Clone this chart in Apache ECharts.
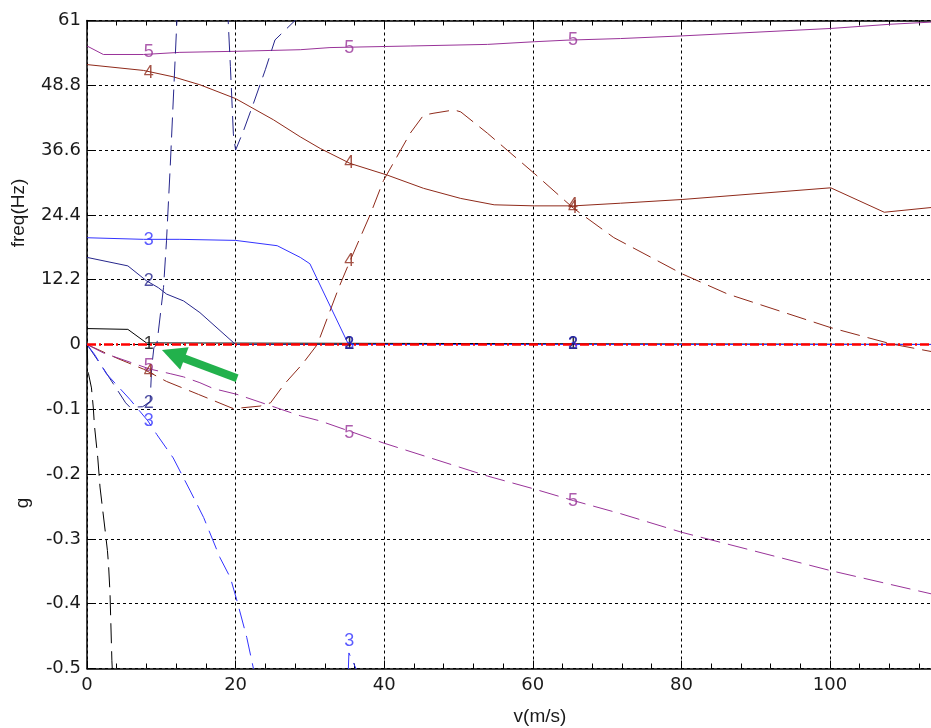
<!DOCTYPE html>
<html><head><meta charset="utf-8">
<script src="https://cdn.jsdelivr.net/npm/echarts@6/dist/echarts.min.js"></script>
<style>html,body{margin:0;padding:0;background:#fff}#c{width:931px;height:728px}</style>
</head><body><div id="c"></div>
<script>
// scale of the two stacked halves: freq (Hz) above zero, damping g below
const FREQ_TOP = 61;
const G_BOTTOM = 0.5;
const xTickLabels = ['0','20','40','60','80','100','120'];
const yTickLabels = ['-0.5','-0.4','-0.3','-0.2','-0.1','0','12.2','24.4','36.6','48.8','61'];

// frequency curves [v (m/s), f (Hz)]
const mode1Freq = [[0,3.0],[5.5,2.85],[8.0,0.3],[8.2,0],[120,0]];
const mode2Freq = [[0,16.4],[5.5,14.8],[8,12.0],[9.6,10.7],[10.7,9.5],[13,8.2],[15.2,6.0],[20,0],[120,0]];
const mode3Freq = [[0,20.1],[7.6,19.8],[12.5,19.8],[20,19.6],[25.6,18.6],[28.7,16.4],[30,15.2],[35.2,0],[120,0]];
const mode4Freq = [[0,52.7],[7.6,51.6],[11.6,50.4],[15.2,48.9],[20,46.3],[25.1,42.3],[28.7,39.1],[31.4,36.9],[35.4,34.1],[40.4,31.9],[45.3,29.4],[50.3,27.5],[54.8,26.3],[60.2,26.1],[65.5,26.1],[71.8,26.6],[80.1,27.3],[100.1,29.5],[107.3,24.9],[113.7,25.8],[116,26.1]];
const mode5Freq = [[0,56.2],[2.2,54.6],[7.6,54.6],[12.5,55.0],[20,55.2],[28.7,55.5],[32.7,55.9],[43.5,56.2],[53.9,56.5],[60.2,57.0],[64.6,57.3],[71.8,57.6],[80.1,58.1],[100.1,59.5],[108.2,60.3],[113.7,60.7],[116,61.0]];

// damping curves [v (m/s), g]
const mode1Damp = [[0,0],[0.1,-0.03],[0.2,-0.045],[0.6,-0.067],[0.85,-0.098],[1.0,-0.125],[1.45,-0.175],[1.75,-0.22],[2.45,-0.288],[2.75,-0.318],[2.9,-0.34],[3.1,-0.385],[3.35,-0.488],[3.4,-0.5],[3.5,-0.55]];
const mode2Damp = [[0,0],[2.2,-0.037],[5.2,-0.09],[5.8,-0.097],[7.5,-0.096],[8.5,-0.088],[8.7,-0.036],[9.0,-0.005],[9.4,0],[10.3,0.088],[10.7,0.16],[11.2,0.274],[12.1,0.5],[12.4,0.58],[18.8,0.58],[19.0,0.5],[19.3,0.429],[19.7,0.325],[20,0.3],[21.1,0.331],[22.4,0.372],[24,0.424],[25.3,0.47],[28,0.5],[30,0.56]];
const mode3Damp = [[0,0],[1,-0.015],[2.6,-0.045],[5.8,-0.085],[8.2,-0.118],[9.4,-0.139],[11.6,-0.175],[13.9,-0.226],[15.7,-0.267],[17.9,-0.329],[19.3,-0.36],[20.2,-0.396],[21.5,-0.452],[22.4,-0.5],[23.5,-0.56],[35.0,-0.56],[35.25,-0.476],[36.4,-0.505],[37,-0.53]];
const mode4Damp = [[0,0],[4,-0.021],[7.6,-0.038],[10.7,-0.057],[15,-0.077],[19.7,-0.099],[23.3,-0.095],[24.7,-0.09],[26.5,-0.062],[29,-0.03],[31,0.0],[33.9,0.088],[35.4,0.129],[38.1,0.2],[39.9,0.253],[43.5,0.326],[45.3,0.354],[46.7,0.357],[49.4,0.362],[50.3,0.359],[53.9,0.326],[60.2,0.264],[65.5,0.21],[70.9,0.165],[80.1,0.109],[86.2,0.078],[100.1,0.026],[108.2,0.001],[113.7,-0.011],[116,-0.015]];
const mode5Damp = [[0,0],[2.2,-0.013],[8.5,-0.038],[11.2,-0.045],[13,-0.05],[15.2,-0.059],[17,-0.068],[20.2,-0.077],[23.3,-0.089],[25.6,-0.098],[28.7,-0.11],[31.4,-0.118],[35.4,-0.134],[39.9,-0.152],[53.9,-0.203],[60.2,-0.223],[65.5,-0.241],[71.8,-0.261],[80.1,-0.29],[100.1,-0.349],[113.7,-0.385],[116,-0.39]];

// curve number labels: [text, v, value, kind]
const curveLabels = [
  ['5',8.3,55.0,'f'],['4',8.3,51.2,'f'],['3',8.3,19.6,'f'],['2',8.3,12.0,'f'],['1',8.3,0,'f'],
  ['5',8.3,-0.033,'g'],['4',8.3,-0.043,'g'],['2',8.3,-0.09,'g'],['3',8.3,-0.118,'g'],
  ['5',35.3,55.9,'f'],['4',35.3,34.1,'f'],['1',35.3,0,'f'],['3',35.3,0,'f'],['2',35.3,0,'f'],
  ['4',35.3,0.129,'g'],['5',35.3,-0.137,'g'],['3',35.3,-0.457,'g'],
  ['5',65.4,57.3,'f'],['4',65.4,26.2,'f'],['1',65.4,0,'f'],['3',65.4,0,'f'],['2',65.4,0,'f'],
  ['4',65.4,0.21,'g'],['5',65.4,-0.241,'g']
];
const zeroLine = [[0,0],[120,0]];
const arrowTail = [20.2,-0.052];
const arrowHead = [11.6,-0.015];

const modeColors = {'1':'#000000','2':'#26268c','3':'#3333ff','4':'#8f2a1a','5':'#993399'};

function disp(pairs, kind){
  return pairs.map(p => [p[0], kind === 'f' ? p[1]/FREQ_TOP : p[1]/G_BOTTOM]);
}
function curve(name, pairs, kind, color){
  return {
    type:'line', name, data: disp(pairs, kind), symbol:'none', clip:true, z:2,
    lineStyle:{color, width:1, type: kind==='f' ? 'solid' : [20,8]}
  };
}

const series = [
  curve('1f', mode1Freq, 'f', modeColors['1']),
  curve('2f', mode2Freq, 'f', modeColors['2']),
  curve('3f', mode3Freq, 'f', modeColors['3']),
  curve('4f', mode4Freq, 'f', modeColors['4']),
  curve('5f', mode5Freq, 'f', modeColors['5']),
  curve('1g', mode1Damp, 'g', modeColors['1']),
  curve('2g', mode2Damp, 'g', modeColors['2']),
  curve('3g', mode3Damp, 'g', modeColors['3']),
  curve('4g', mode4Damp, 'g', modeColors['4']),
  curve('5g', mode5Damp, 'g', modeColors['5']),
  {type:'line', name:'zero', data: zeroLine, symbol:'none', z:3,
   lineStyle:{color:'#ff0000', width:2.5, type:[9,3,2,3]}},
  {type:'scatter', name:'labels', symbolSize:0, z:4,
   data: curveLabels.map(l => ({
     value:[l[1], l[3]==='f' ? l[2]/FREQ_TOP : l[2]/G_BOTTOM],
     label:{show:true, position:'inside', formatter:l[0], color:modeColors[l[0]],
            fontFamily:'Liberation Sans', fontSize:18}
   }))},
  {type:'line', name:'arrow', data:[], z:10,
   markLine:{silent:true, animation:false, symbol:['none','triangle'], symbolSize:[24,24],
     label:{show:false},
     lineStyle:{color:'#22b14c', width:8, type:'solid'},
     data:[[{coord:[arrowTail[0], arrowTail[1]/G_BOTTOM]},{coord:[arrowHead[0], arrowHead[1]/G_BOTTOM]}]]}}
];

const tickFont = {fontFamily:'DejaVu Sans', fontSize:18, color:'#1a1a1a'};
const chart = echarts.init(document.getElementById('c'), null, {renderer:'canvas'});
chart.setOption({
  animation:false,
  backgroundColor:'#ffffff',
  grid:{left:87, top:20.5, width:891.6, height:648, containLabel:false, outerBoundsMode:'none'},
  xAxis:[
    {type:'value', min:0, max:120, interval:20, position:'bottom',
     axisLine:{show:true, onZero:false, lineStyle:{color:'#000', width:1.5}},
     axisTick:{show:true, inside:true, length:8, lineStyle:{color:'#000'}},
     minorTick:{show:true, splitNumber:5, length:5, lineStyle:{color:'#000'}},
     axisLabel:Object.assign({margin:8, formatter:v => xTickLabels[Math.round(v/20)]}, tickFont),
     splitLine:{show:true, lineStyle:{color:'#000', width:1, type:[3,3]}}},
    {type:'value', min:0, max:120, interval:20, position:'top',
     axisLine:{show:true, onZero:false, lineStyle:{color:'#000', width:1.5}},
     axisTick:{show:true, inside:true, length:8, lineStyle:{color:'#000'}},
     minorTick:{show:true, splitNumber:5, length:5, lineStyle:{color:'#000'}},
     axisLabel:{show:false}, splitLine:{show:false}}
  ],
  yAxis:{type:'value', min:-1, max:1, interval:0.2,
     axisLine:{show:true, onZero:false, lineStyle:{color:'#000', width:1.5}},
     axisTick:{show:true, inside:true, length:8, lineStyle:{color:'#000'}},
     axisLabel:Object.assign({margin:6, formatter:v => yTickLabels[Math.round((v+1)/0.2)]}, tickFont),
     splitLine:{show:true, lineStyle:{color:'#000', width:1, type:[3,3]}}},
  graphic:[
    {type:'text', x:19, y:213, rotation:Math.PI/2,
     style:{text:'freq(Hz)', fontFamily:'Liberation Sans', fontSize:19, fill:'#1a1a1a', align:'center', verticalAlign:'middle'}},
    {type:'text', x:23, y:503, rotation:Math.PI/2,
     style:{text:'g', fontFamily:'Liberation Sans', fontSize:19, fill:'#1a1a1a', align:'center', verticalAlign:'middle'}},
    {type:'text', x:540, y:717,
     style:{text:'v(m/s)', fontFamily:'Liberation Sans', fontSize:19, fill:'#1a1a1a', align:'center', verticalAlign:'middle'}}
  ],
  series
});
</script></body></html>
